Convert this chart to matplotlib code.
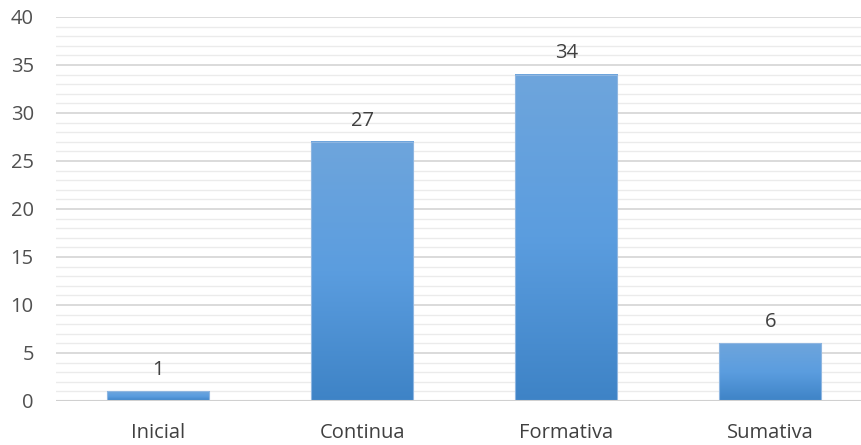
import numpy as np
import matplotlib
matplotlib.use("Agg")
import matplotlib.pyplot as plt
from matplotlib.colors import LinearSegmentedColormap

categories = ["Inicial", "Continua", "Formativa", "Sumativa"]
values = [1, 27, 34, 6]
y_ticks = [0, 5, 10, 15, 20, 25, 30, 35, 40]

plt.rcParams["font.family"] = ["Open Sans", "DejaVu Sans"]

fig = plt.figure(figsize=(8.62, 4.45), dpi=100)
ax = fig.add_axes([56 / 862, 44 / 445, 806 / 862, 384 / 445])

x = np.arange(len(categories))
width = 0.5
ax.set_xlim(-0.5, 3.45)
ax.set_ylim(0, 40)

# gridlines: minor every unit, major every 5
for v in range(1, 40):
    if v % 5:
        ax.axhline(v, color="#ebebeb", lw=1.0, zorder=0)
for v in y_ticks[1:]:
    ax.axhline(v, color="#d4d4d4", lw=1.2, zorder=0.5)

grad = LinearSegmentedColormap.from_list("bar", ["#3e83c6", "#5b9ddf", "#6ea5dc"])
gradient = np.linspace(0, 1, 256).reshape(-1, 1)

bars = ax.bar(x, values, width=width, color="none", edgecolor="none", zorder=2)
for rect, val in zip(bars, values):
    x0, w, h = rect.get_x(), rect.get_width(), rect.get_height()
    ax.imshow(gradient, cmap=grad, aspect="auto", origin="lower",
              extent=(x0, x0 + w, 0, h), zorder=2)
    ax.add_patch(plt.Rectangle((x0, 0), w, h, fill=False,
                               edgecolor="#8fb6e0", lw=0.8, zorder=3))
    ax.annotate(str(val), (x0 + w / 2, h), xytext=(0, 8), textcoords="offset points",
                ha="center", va="bottom", fontsize=14.5, color="#404040")

ax.axhline(0, color="#d0d0d0", lw=1.5, zorder=4)

ax.set_xticks(x)
ax.set_xticklabels(categories, fontsize=14.5, color="#404040")
ax.set_yticks(y_ticks)
ax.set_yticklabels([str(t) for t in y_ticks], fontsize=14.5, color="#505050")
ax.tick_params(axis="x", length=0, pad=16)
ax.tick_params(axis="y", length=0, pad=16)
for s in ax.spines.values():
    s.set_visible(False)

fig.savefig("out.png", dpi=100)
